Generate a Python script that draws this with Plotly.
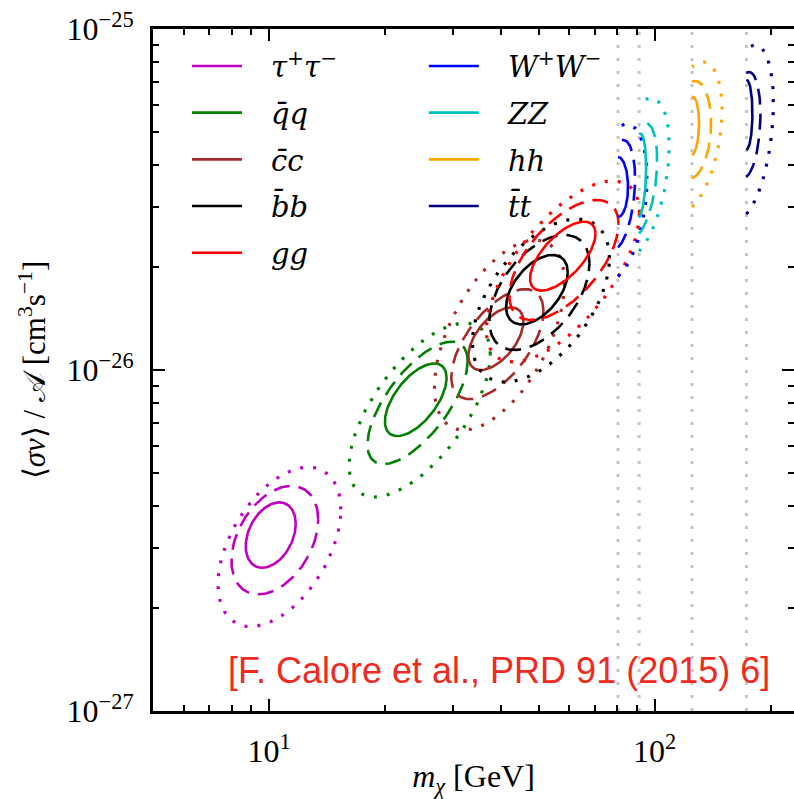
import numpy as np
import plotly.graph_objects as go

# ---------------- data ----------------
channels = ["tau", "qq", "cc", "bb", "gg", "WW", "ZZ", "hh", "tt"]
labels = [
    "<i>τ</i><sup>+</sup><i>τ</i><sup>−</sup>",
    "<i>q\u0304q</i>",
    "<i>c\u0304c</i>",
    "<i>b\u0304b</i>",
    "<i>gg</i>",
    "<i>W</i><sup>+</sup><i>W</i><sup>−</sup>",
    "<i>ZZ</i>",
    "<i>hh</i>",
    "<i>t\u0304t</i>",
]
colors = ["#bf00bf", "#008000", "#a52a2a", "#000000", "#ff0000",
          "#0000ff", "#00bfbf", "#ffa500", "#000080"]
legend_id = ["legend"] * 5 + ["legend2"] * 4

# kinematic thresholds (GeV) for channels cut at m_chi = m_particle
thresholds = [None, None, None, None, None, 80.4, 91.19, 125.1, 173.1]

# contour centres: DM mass [GeV], <sigma v>/A [1e-26 cm^3/s]
# extents in decades (half-width in x, half-height in y), correlation rho
# 1 sigma (solid)
mass_1s = [10.10, 24.02, 38.76, 49.53, 57.80, 80.4, 91.19, 125.1, 173.1]
sv_1s   = [0.328, 0.818, 1.235, 1.720, 2.157, 3.44, 3.706, 5.193, 5.596]
dx_1s   = [0.0649, 0.0800, 0.0714, 0.0800, 0.0849, 0.026, 0.0182, 0.0182, 0.0156]
dy_1s   = [0.0959, 0.1065, 0.0918, 0.1018, 0.1012, 0.088, 0.1243, 0.0856, 0.1026]
rho_1s  = [0.34, 0.60, 0.55, 0.50, 0.65, 0.0, 0.20, 0.10, 0.05]
# 2 sigma (dashed)
mass_2s = [10.35, 24.28, 39.11, 50.27, 58.21, 80.4, 91.19, 125.1, 173.1]
sv_2s   = [0.317, 0.801, 1.191, 1.688, 2.102, 3.26, 3.607, 5.055, 5.229]
dx_2s   = [0.1125, 0.1299, 0.1195, 0.1299, 0.1416, 0.0442, 0.0468, 0.0494, 0.0364]
dy_2s   = [0.1589, 0.1795, 0.1613, 0.1686, 0.1760, 0.1613, 0.1672, 0.1437, 0.1554]
rho_2s  = [0.38, 0.68, 0.60, 0.50, 0.60, 0.30, 0.35, 0.15, 0.20]
# 3 sigma (dotted)
mass_3s = [10.64, 24.60, 39.58, 50.72, 57.86, 80.4, 91.19, 125.1, 173.1]
sv_3s   = [0.303, 0.763, 1.266, 1.599, 1.945, 3.11, 3.656, 4.822, 4.987]
dx_3s   = [0.1592, 0.1831, 0.1688, 0.1779, 0.1987, 0.0753, 0.0779, 0.0779, 0.0701]
dy_3s   = [0.2337, 0.2551, 0.2786, 0.2390, 0.2654, 0.2287, 0.2346, 0.2199, 0.2551]
rho_3s  = [0.47, 0.64, 0.55, 0.52, 0.65, 0.30, 0.40, 0.36, 0.33]

x_tickvals = [10, 100]
x_ticktext = ["10<sup>1</sup>", "10<sup>2</sup>"]
x_minor = [6, 7, 8, 9, 20, 30, 40, 50, 60, 70, 80, 90, 200]
y_tickvals = [1e-27, 1e-26, 1e-25]
y_ticktext = ["10<sup>−27</sup>", "10<sup>−26</sup>", "10<sup>−25</sup>"]
y_minor = [k * 1e-27 for k in range(2, 10)] + [k * 1e-26 for k in range(2, 10)]

citation = "[F. Calore et al., PRD 91 (2015) 6]"

# ---------------- figure ----------------
SERIF = "Liberation Serif"
GAP = "\u2002\u2004"
fig = go.Figure()

levels = [
    (mass_1s, sv_1s, dx_1s, dy_1s, rho_1s, None, 2.6),
    (mass_2s, sv_2s, dx_2s, dy_2s, rho_2s, "16px,9px", 2.6),
    (mass_3s, sv_3s, dx_3s, dy_3s, rho_3s, "3px,10px", 3.2),
]

def contour(m, s, a, b, r, thr):
    # clipped contours only exist above threshold: right half of the ellipse
    t = np.linspace(-np.pi / 2, np.pi / 2, 80) if thr else np.linspace(0, 2 * np.pi, 160)
    u = np.log10(m) + a * np.cos(t)
    v = np.log10(s * 1e-26) + b * (r * np.cos(t) + np.sqrt(1 - r * r) * np.sin(t))
    return 10 ** u, 10 ** v

# vertical threshold lines
for thr in thresholds:
    if thr:
        fig.add_trace(go.Scatter(x=[thr, thr], y=[1e-27, 1e-25], mode="lines",
                                 line=dict(color="#c4c4c4", width=3, dash="3px,10px"),
                                 showlegend=False, hoverinfo="skip"))

for i, ch in enumerate(channels):
    for li, (M, S, DX, DY, R, dash, w) in enumerate(levels):
        x, y = contour(M[i], S[i], DX[i], DY[i], R[i], thresholds[i])
        fig.add_trace(go.Scatter(
            x=x, y=y, mode="lines",
            line=dict(color=colors[i], width=w, dash=dash if dash else "solid"),
            name=GAP + labels[i], legendgroup=ch, legend=legend_id[i],
            showlegend=(li == 0), hoverinfo="skip"))

fig.add_annotation(text=citation, xref="paper", yref="paper", x=0.54, y=0.06,
                   xanchor="center", yanchor="middle", showarrow=False,
                   font=dict(family="Liberation Sans", size=36, color="#f02a1e"))

axis_common = dict(type="log", showgrid=False, zeroline=False, showline=True,
                   linecolor="black", linewidth=3, mirror="allticks",
                   ticks="inside", ticklen=12, tickwidth=2, tickcolor="black",
                   automargin=False, ticklabelstandoff=10,
                   tickfont=dict(family=SERIF, size=32, color="black"))

fig.update_xaxes(range=[np.log10(5), np.log10(230)], tickmode="array",
                 tickvals=x_tickvals, ticktext=x_ticktext,
                 minor=dict(tickmode="array", tickvals=x_minor, ticks="inside",
                            ticklen=6, tickwidth=1.5, tickcolor="black", showgrid=False),
                 title=dict(text="<i>m</i><sub><i>χ</i></sub> [GeV]",
                            font=dict(family=SERIF, size=32, color="black"), standoff=0),
                 **axis_common)
fig.update_yaxes(range=[-27, -25], tickmode="array",
                 tickvals=y_tickvals, ticktext=y_ticktext,
                 minor=dict(tickmode="array", tickvals=y_minor, ticks="inside",
                            ticklen=6, tickwidth=1.5, tickcolor="black", showgrid=False),
                 title=dict(text="⟨<i>σv</i>⟩ / 𝒜 [cm<sup>3</sup>s<sup>−1</sup>]",
                            font=dict(family=SERIF, size=31, color="black"), standoff=12),
                 **axis_common)

legend_common = dict(bgcolor="rgba(0,0,0,0)", borderwidth=0, itemwidth=50,
                     font=dict(family="DejaVu Serif", size=29, color="black"),
                     xanchor="left", yanchor="top", tracegroupgap=6,
                     itemclick=False, itemdoubleclick=False)
fig.update_layout(
    width=794, height=799,
    margin=dict(l=153, r=0, t=29, b=88),
    plot_bgcolor="white", paper_bgcolor="white",
    legend=dict(x=0.053, y=0.983, **legend_common),
    legend2=dict(x=0.4225, y=0.983, **legend_common),
)

fig.write_html("out.html", config={"displayModeBar": False},
               post_script="document.body.style.margin='0';")
